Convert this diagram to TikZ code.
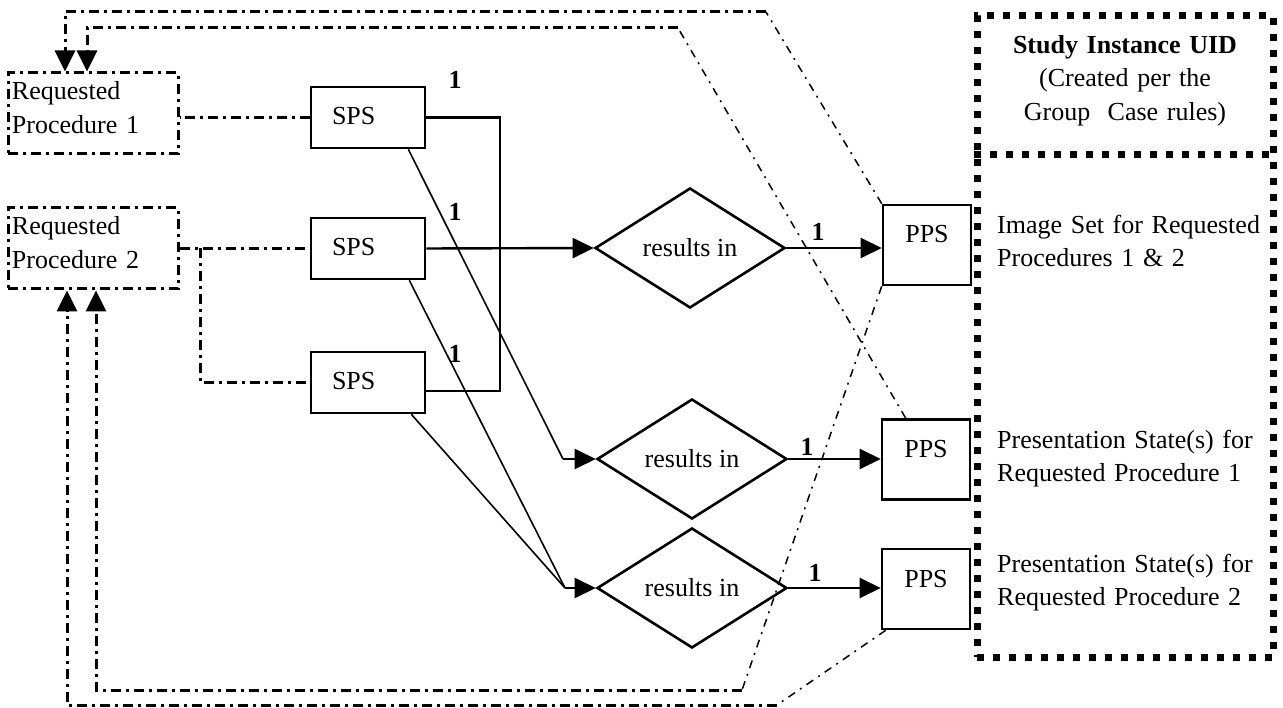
\documentclass[tikz,border=0pt]{standalone}
\usepackage{fontspec}
\setmainfont{Liberation Serif}
\usetikzlibrary{shapes.geometric,arrows.meta,calc}
\begin{document}
\begin{tikzpicture}[x=1pt,y=-1pt,
  every node/.style={font=\fontsize{26pt}{33.5pt}\selectfont},
  spsbox/.style={draw, line width=2.6pt, rectangle, minimum width=114pt, minimum height=61pt,
    inner ysep=0pt, inner xsep=21pt, text width=72pt, align=left, text height=38pt, text depth=23pt},
  ppsbox/.style={draw, line width=2.6pt, rectangle, minimum width=88pt, minimum height=80pt,
    inner ysep=0pt, inner xsep=0pt, text width=88pt, align=center, text height=38pt, text depth=42pt},
  rpbox/.style={draw, ddthick, rectangle, minimum width=170pt, minimum height=81pt,
    inner ysep=0pt, inner xsep=4pt, text width=162pt, align=left, text height=27pt, text depth=54pt},
  decide/.style={draw, diamond, line width=2.6pt, minimum width=190pt, minimum height=120pt,
    inner sep=0pt, aspect=1.58},
  ddthick/.style={line width=3pt, dash pattern=on 10pt off 5pt on 3pt off 5pt},
  ddthin/.style={line width=1.5pt, dash pattern=on 8pt off 6pt on 2pt off 6pt},
  arr/.style={line width=2.4pt, -{Triangle[length=21pt,width=20pt]}},
  tipdd/.style={-{Triangle[length=21pt,width=20pt]}},
  thinln/.style={line width=1.6pt},
  bracketln/.style={line width=2.6pt},
  studyln/.style={line width=7pt, dash pattern=on 7pt off 9pt},
  onelbl/.style={font=\fontsize{26pt}{33.5pt}\selectfont\bfseries, inner sep=0pt},
  sidetxt/.style={anchor=north west, inner sep=0pt, text width=272pt, align=left, text height=18pt}
]
\useasboundingbox (0,0) rectangle (1283,708);

% Requested procedures
\node[rpbox] (rp1) at (93,113.5) {Requested\\Procedure 1};
\node[rpbox] (rp2) at (93,248.5) {Requested\\Procedure 2};

% SPS boxes
\node[spsbox] (s1) at (368,117.5) {SPS};
\node[spsbox] (s2) at (368,248.5) {SPS};
\node[spsbox] (s3) at (368,382.5) {SPS};

% diamonds
\node[decide] (d1) at (690,248) {results in};
\node[decide] (d2) at (692,459) {results in};
\node[decide] (d3) at (692,588) {results in};

% PPS boxes
\node[ppsbox] (p1) at (927,245) {PPS};
\node[ppsbox] (p2) at (926,459.5) {PPS};
\node[ppsbox] (p3) at (926,589) {PPS};

% Study box
\node[draw, studyln, rectangle, minimum width=296pt, minimum height=641pt, inner sep=0pt] (study) at (1125,336.5) {};
\coordinate (dv) at (0,155);
\draw[studyln] (study.west |- dv) -- (study.east |- dv);
\node[anchor=north, text width=290pt, align=center, inner sep=0pt, text height=18pt] (hdr) at (1125,35)
  {\textbf{Study Instance UID}\\(Created per the\\Group\ \ Case rules)};
\node[sidetxt] (txt1) at (997,215) {Image Set for Requested\\Procedures 1 \& 2};
\node[sidetxt] (txt2) at (997,430) {Presentation State(s) for\\Requested Procedure 1};
\node[sidetxt] (txt3) at (997,554) {Presentation State(s) for\\Requested Procedure 2};

% RP -> SPS dash-dot links
\draw[ddthick] (s1.west) -- (s1.west -| rp1.east);
\draw[ddthick] (rp2.east) -- (s2.west);
\coordinate (j) at (200,248.5);
\draw[ddthick] (j) -- (j |- s3.west) -- (s3.west);

% bracket
\coordinate (br1) at (500,117.5);
\coordinate (br3) at (500,391);
\draw[bracketln] (s1.east) -- (br1) -- (br3) -- (br3 -| s3.east);

% SPS -> diamonds
\draw[arr] (s2.east) -- (d1.west);
\coordinate (k2) at (563,459);
\draw[thinln] ([xshift=-18pt]s1.south east) -- (k2);
\draw[arr] (k2) -- (d2.west);
\coordinate (k3) at (565,588);
\draw[thinln] ([xshift=-17pt]s2.south east) -- (k3);
\draw[thinln] ([xshift=-15pt]s3.south east) -- (k3);
\draw[arr] (k3) -- (d3.west);

% diamonds -> PPS
\draw[arr] (d1.east) -- (d1.east -| p1.west);
\draw[arr] (d2.east) -- (d2.east -| p2.west);
\draw[arr] (d3.east) -- (d3.east -| p3.west);

% labels 1
\node[onelbl] (l1) at (455,80) {1};
\node[onelbl] (l2) at (455,212) {1};
\node[onelbl] (l3) at (455,354) {1};
\node[onelbl] (l4) at (818,232) {1};
\node[onelbl] (l5) at (807,447) {1};
\node[onelbl] (l6) at (815,573) {1};

% top feedback lines
\coordinate (t1) at (766,12);
\coordinate (t1b) at (65,12);
\coordinate (t2) at (678,28);
\coordinate (t2b) at (87,28);
\draw[ddthin] (p1.north west) -- (t1);
\draw[ddthick, tipdd] (t1) -- (t1b) -- (t1b |- rp1.north);
\draw[ddthin] ([xshift=25pt]p2.north west) -- (t2);
\draw[ddthick, tipdd] (t2) -- (t2b) -- (t2b |- rp1.north);

% bottom feedback lines
\coordinate (b1) at (742,690);
\coordinate (b1b) at (96,690);
\coordinate (b2) at (777,705);
\coordinate (b2b) at (67,705);
\draw[ddthin] (p1.south west) -- (b1);
\draw[ddthick, tipdd] (b1) -- (b1b) -- (b1b |- rp2.south);
\draw[ddthin] ([xshift=5pt]p3.south west) -- (b2);
\draw[ddthick, tipdd] (b2) -- (b2b) -- (b2b |- rp2.south);
\end{tikzpicture}
\end{document}
